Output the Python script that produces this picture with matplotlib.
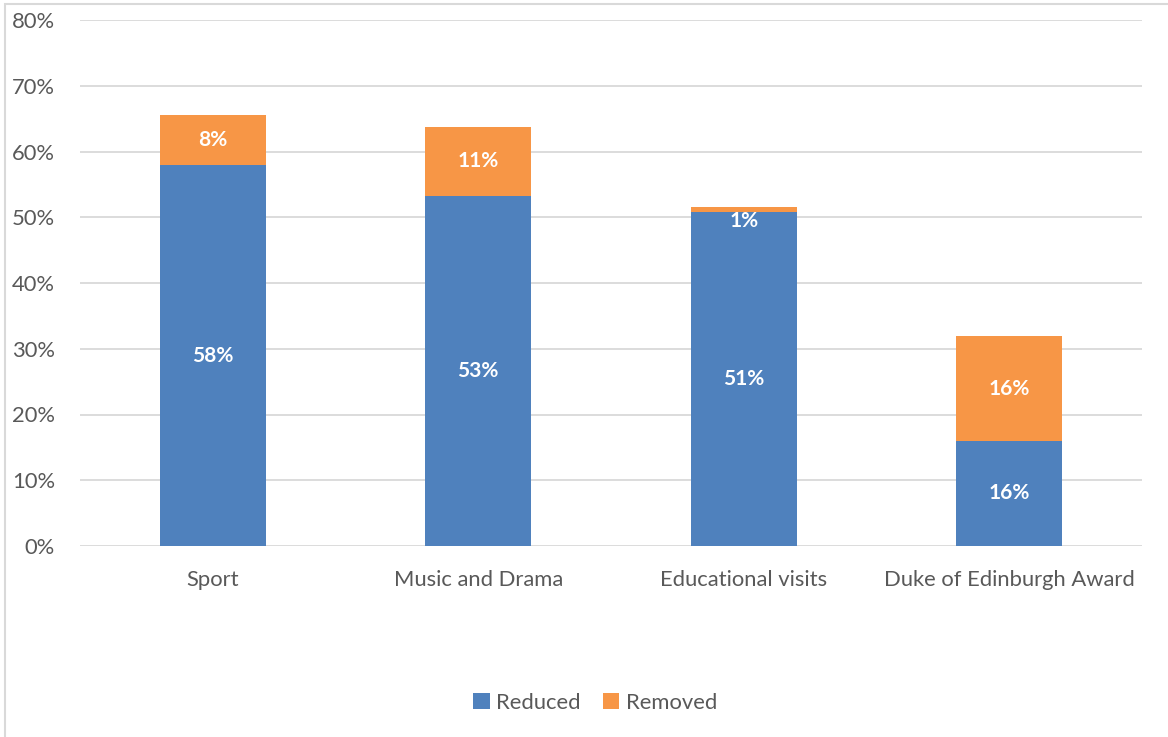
import matplotlib
matplotlib.use('Agg')
from matplotlib import pyplot as plt
from matplotlib.patches import Rectangle
import numpy as np

plt.rcParams['font.family'] = ['Lato', 'DejaVu Sans']

#%%
categories = ['Sport', 'Music and Drama', 'Educational visits', 'Duke of Edinburgh Award']
reduced = [57.9, 53.2, 50.8, 16.0]
removed = [7.7, 10.6, 0.7, 15.9]
reduced_labels = ['58%', '53%', '51%', '16%']
removed_labels = ['8%', '11%', '1%', '16%']
yticks = [0, 10, 20, 30, 40, 50, 60, 70, 80]

blue = '#4f81bd'
orange = '#f79646'
grey = '#595959'

#%%
fig = plt.figure(figsize=(11.68, 7.37), dpi=100)
ax = fig.add_axes([80 / 1168, 1 - 546 / 737, 1062 / 1168, 526 / 737])

x = np.arange(len(categories))
b1 = ax.bar(x, reduced, width=0.4, color=blue, zorder=3)
b2 = ax.bar(x, removed, width=0.4, bottom=reduced, color=orange, zorder=3)

for i in range(len(categories)):
    ax.text(x[i], reduced[i] / 2, reduced_labels[i], ha='center', va='center',
            color='white', fontsize=15, fontweight='bold', zorder=4)
    y2 = reduced[i] + removed[i] / 2
    if removed[i] < 3:
        y2 = reduced[i] - 1.3
    ax.text(x[i], y2, removed_labels[i], ha='center', va='center',
            color='white', fontsize=15, fontweight='bold', zorder=4)

ax.set_xlim(-0.5, len(categories) - 0.5)
ax.set_ylim(0, 80)
ax.set_yticks(yticks)
ax.set_yticklabels([f'{t}%' for t in yticks])
ax.set_xticks(x)
ax.set_xticklabels(categories)
ax.tick_params(axis='both', length=0, labelsize=15.8, colors=grey)
ax.tick_params(axis='y', pad=18)
ax.tick_params(axis='x', pad=17)
ax.grid(axis='y', color='#d9d9d9', linewidth=1.3, zorder=0)
for s in ax.spines.values():
    s.set_visible(False)

ax.legend([b1, b2], ['Reduced', 'Removed'], loc='center',
          bbox_to_anchor=(595 / 1168, 1 - 703 / 737),
          bbox_transform=fig.transFigure, ncol=2, frameon=False, fontsize=15.8,
          handlelength=0.75, handleheight=0.75, columnspacing=1.0, handletextpad=0.3,
          labelcolor=grey)

# outer chart border
fig.patches.append(Rectangle((5 / 1168, -0.1), 1.2, 1 - 4 / 737 + 0.1, transform=fig.transFigure,
                             fill=False, edgecolor='#d9d9d9', linewidth=1.5))

fig.savefig('out.png', dpi=100)
